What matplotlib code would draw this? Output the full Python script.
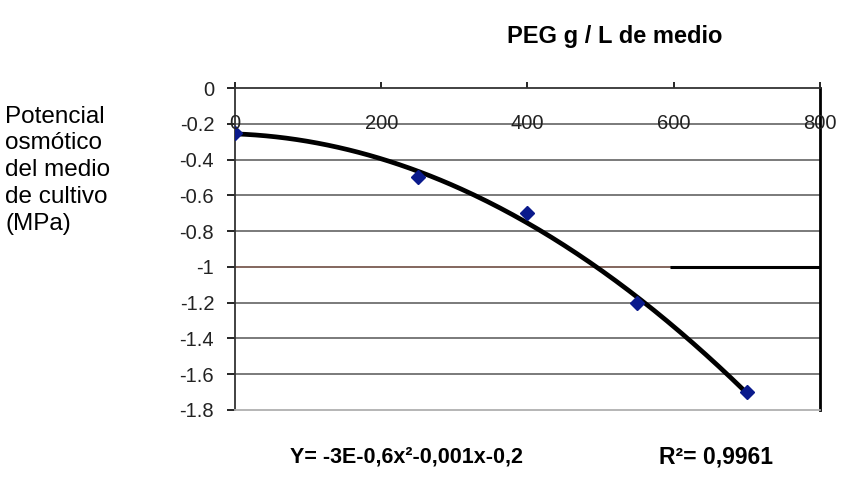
import matplotlib.pyplot as plt
import numpy as np

# data
peg = [0, 250, 400, 550, 700]
potencial = [-0.25, -0.5, -0.7, -1.2, -1.7]
x_ticks = [0, 200, 400, 600, 800]
y_ticks = [0, -0.2, -0.4, -0.6, -0.8, -1, -1.2, -1.4, -1.6, -1.8]
y_labels = ['0', '-0.2', '-0.4', '-0.6', '-0.8', '-1', '-1.2', '-1.4', '-1.6', '-1.8']

plt.rcParams['font.family'] = ['Liberation Sans', 'DejaVu Sans']

fig = plt.figure(figsize=(8.41, 4.84), dpi=100)
ax = fig.add_axes([0.2794, 0.153, 0.6956, 0.665])
ax.set_xlim(0, 800)
ax.set_ylim(-1.8, 0)

# horizontal gridlines
for v in y_ticks[1:-1]:
    col = '#7a5a50' if v == -1 else '#707070'
    ax.axhline(v, color=col, lw=1.3, zorder=1)
ax.hlines(-1, 595, 800, color='black', lw=2.2, zorder=2)

# quadratic trend line fitted to the points
coef = np.polyfit(peg, potencial, 2)
xs = np.linspace(0, 700, 200)
ax.plot(xs, np.polyval(coef, xs), color='black', lw=3.4, zorder=3)
ax.plot(peg, potencial, 'D', color='#0a1a8c', ms=7, zorder=4)

# x tick labels sit on the -0.2 line
ax.set_xticks(x_ticks)
ax.xaxis.set_ticks_position('top')
ax.tick_params(axis='x', direction='out', length=4, width=1.2, labeltop=False, labelbottom=False)
for xv in x_ticks:
    ax.text(xv, -0.2, str(xv), ha='center', va='center', fontsize=14.5, color='#222222', zorder=5)

ax.set_yticks(y_ticks)
ax.set_yticklabels(y_labels)
ax.tick_params(axis='y', direction='out', length=6, width=1.2, labelsize=14.5, pad=9,
               labelcolor='#222222')

ax.spines['top'].set_color('#333333')
ax.spines['top'].set_linewidth(1.3)
ax.spines['left'].set_color('#333333')
ax.spines['left'].set_linewidth(1.3)
ax.spines['right'].set_color('black')
ax.spines['right'].set_linewidth(2)
ax.spines['bottom'].set_color('#b0b0b0')
ax.spines['bottom'].set_linewidth(1.3)

fig.text(0.006, 0.782, 'Potencial\nosmótico\ndel medio\nde cultivo\n(MPa)', ha='left', va='top',
         fontsize=17.5, linespacing=1.28)
fig.text(0.603, 0.925, 'PEG g / L de medio', ha='left', va='center', fontsize=17,
         fontweight='bold')
fig.text(0.345, 0.055, 'Y= -3E-0,6x²-0,001x-0,2', ha='left', va='center', fontsize=15.5,
         fontweight='bold')
fig.text(0.784, 0.055, 'R²= 0,9961', ha='left', va='center', fontsize=16.5,
         fontweight='bold')

fig.savefig('out.png', dpi=100)
